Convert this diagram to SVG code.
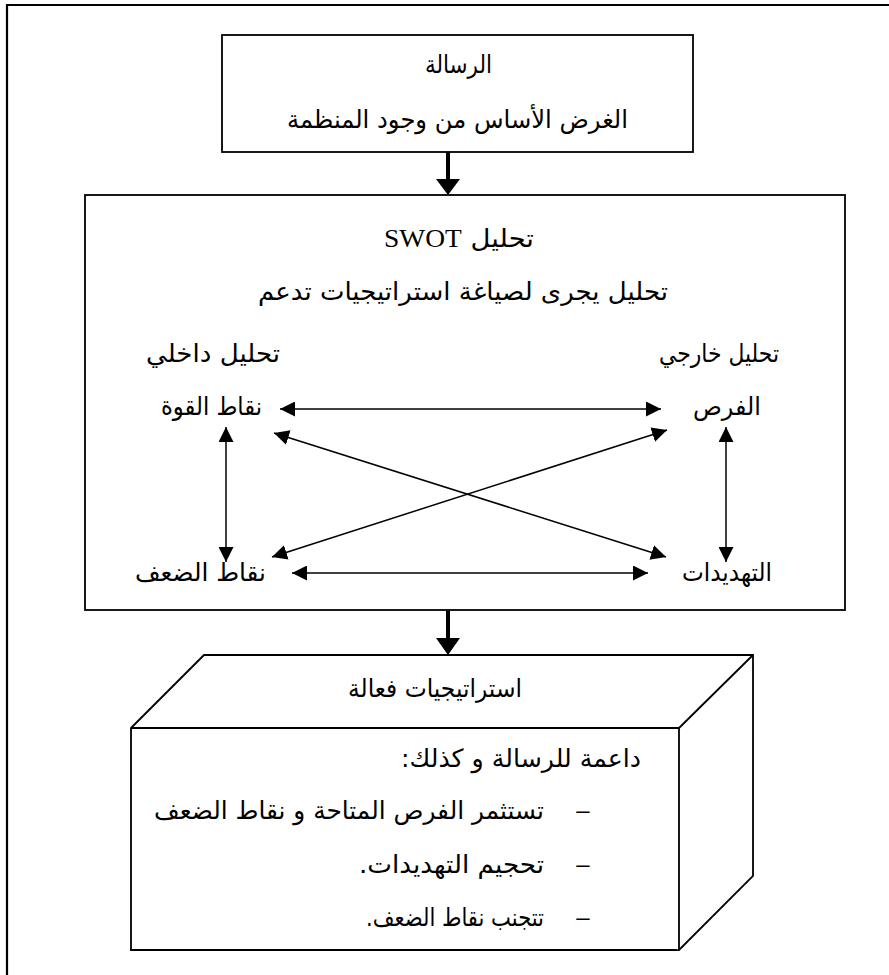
<svg xmlns="http://www.w3.org/2000/svg" width="889" height="975" viewBox="0 0 889 975">
  <style>
    .box { fill: #ffffff; stroke: #000000; stroke-width: 1.8; }
    .frame { fill: none; stroke: #000000; stroke-width: 2.2; }
    .ar { font-family: "DejaVu Sans", "Noto Sans", sans-serif; font-size: 25px; fill: #000000; direction: rtl; text-anchor: middle; }
    .lat { font-family: "Liberation Serif", "DejaVu Serif", serif; font-size: 25px; }
    .dash { font-family: "Liberation Sans", Arial, sans-serif; font-size: 24px; fill: #000000; text-anchor: middle; }
    .thin { stroke: #000000; stroke-width: 1.5; fill: none; }
    .thick { stroke: #000000; stroke-width: 4; fill: none; }
    .head { fill: #000000; }
  </style>
  <defs>
    <marker id="tip" viewBox="0 0 15 15" refX="15" refY="7.5" markerWidth="15" markerHeight="15" markerUnits="userSpaceOnUse" orient="auto-start-reverse">
      <path class="head" d="M0,0 L15,7.5 L0,15 Z"/>
    </marker>
  </defs>

  <rect width="889" height="975" fill="#ffffff"/>
  <!-- page frame: only its left and top edges fall inside the sheet -->
  <path class="frame" d="M7,980 V5 H895"/>

  <!-- mission box -->
  <g id="mission">
    <rect class="box" x="222" y="35" width="471" height="117"/>
    <text class="ar" x="458.5" y="73" textLength="67" lengthAdjust="spacingAndGlyphs">الرسالة</text>
    <text class="ar" x="457.5" y="128" textLength="341" lengthAdjust="spacingAndGlyphs">الغرض الأساس من وجود المنظمة</text>
  </g>

  <!-- SWOT analysis box -->
  <g id="swot">
    <rect class="box" x="85" y="195" width="760" height="415"/>
    <text class="ar" x="459" y="247" textLength="150" lengthAdjust="spacingAndGlyphs">تحليل <tspan class="lat">SWOT</tspan></text>
    <text class="ar" x="463" y="300" textLength="410" lengthAdjust="spacingAndGlyphs">تحليل يجرى لصياغة استراتيجيات تدعم</text>
  </g>

  <g id="internal">
    <text class="ar" x="213" y="362" textLength="134" lengthAdjust="spacingAndGlyphs">تحليل داخلي</text>
  </g>
  <g id="external">
    <text class="ar" x="719" y="362" textLength="120" lengthAdjust="spacingAndGlyphs">تحليل خارجي</text>
  </g>
  <g id="strengths">
    <text class="ar" x="211.5" y="415" textLength="101" lengthAdjust="spacingAndGlyphs">نقاط القوة</text>
  </g>
  <g id="opportunities">
    <text class="ar" x="727" y="415" textLength="68" lengthAdjust="spacingAndGlyphs">الفرص</text>
  </g>
  <g id="weaknesses">
    <text class="ar" x="200.5" y="581" textLength="131" lengthAdjust="spacingAndGlyphs">نقاط الضعف</text>
  </g>
  <g id="threats">
    <text class="ar" x="727" y="581" textLength="90" lengthAdjust="spacingAndGlyphs">التهديدات</text>
  </g>

  <!-- effective strategies: box drawn in perspective -->
  <g id="strategies">
    <path class="box" d="M131,728 L204,655 L753,655 L753,876 L679,950 L131,950 Z"/>
    <path class="box" d="M131,728 H679 V950 M679,728 L753,655"/>
    <text class="ar" x="435" y="697" textLength="174" lengthAdjust="spacingAndGlyphs">استراتيجيات فعالة</text>
    <text class="ar" x="521" y="767" textLength="240" lengthAdjust="spacingAndGlyphs">داعمة للرسالة و كذلك:</text>
    <text class="dash" x="583" y="818">–</text>
    <text class="ar" x="349" y="819" textLength="390" lengthAdjust="spacingAndGlyphs">تستثمر الفرص المتاحة و نقاط الضعف</text>
    <text class="dash" x="583" y="872">–</text>
    <text class="ar" x="451.5" y="873" textLength="185" lengthAdjust="spacingAndGlyphs">تحجيم التهديدات.</text>
    <text class="dash" x="583" y="925">–</text>
    <text class="ar" x="455" y="926" textLength="178" lengthAdjust="spacingAndGlyphs">تتجنب نقاط الضعف.</text>
  </g>

  <g id="connectors">
    <!-- flow between the three main blocks -->
    <line class="thick" x1="448" y1="152" x2="448" y2="180"/>
    <path class="head" d="M436,179 L460,179 L448,195 Z"/>
    <line class="thick" x1="448" y1="610" x2="448" y2="639"/>
    <path class="head" d="M436,638 L460,638 L448,655 Z"/>

    <!-- two-way links between the SWOT factors -->
    <line class="thin" x1="280" y1="409" x2="661" y2="409" marker-start="url(#tip)" marker-end="url(#tip)"/>
    <line class="thin" x1="292" y1="573" x2="648" y2="573" marker-start="url(#tip)" marker-end="url(#tip)"/>
    <line class="thin" x1="226" y1="427" x2="226" y2="562" marker-start="url(#tip)" marker-end="url(#tip)"/>
    <line class="thin" x1="726" y1="427" x2="726" y2="562" marker-start="url(#tip)" marker-end="url(#tip)"/>
    <line class="thin" x1="274" y1="433" x2="666" y2="557" marker-start="url(#tip)" marker-end="url(#tip)"/>
    <line class="thin" x1="272" y1="557" x2="667" y2="430" marker-start="url(#tip)" marker-end="url(#tip)"/>
  </g>
</svg>
